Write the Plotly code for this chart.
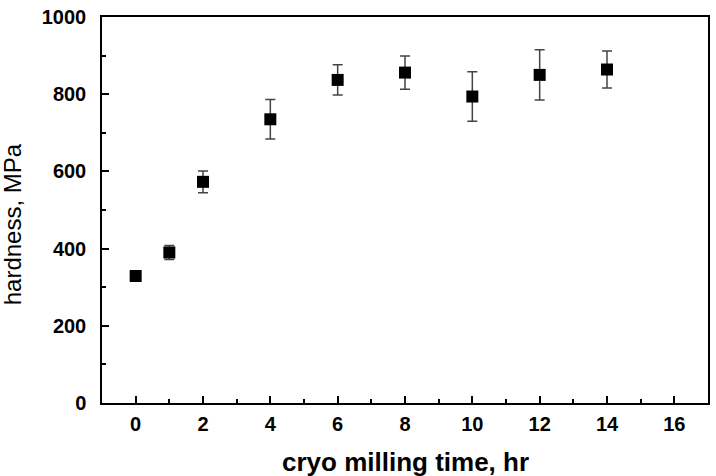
import plotly.graph_objects as go

time_hr = [0, 1, 2, 4, 6, 8, 10, 12, 14]
hardness = [329, 390, 573, 735, 837, 856, 794, 850, 864]
err = [10, 18, 28, 51, 39, 43, 64, 65, 48]

x_ticks = [0, 2, 4, 6, 8, 10, 12, 14, 16]
y_ticks = [0, 200, 400, 600, 800, 1000]
x_title = "cryo milling time, hr"
y_title = "hardness, MPa"

fig = go.Figure()
fig.add_trace(go.Scatter(
    x=time_hr, y=hardness, mode="markers",
    marker=dict(symbol="square", size=12, color="black", line=dict(width=0)),
    error_y=dict(type="data", array=err, visible=True, color="#444444", thickness=1.5, width=5),
    showlegend=False,
))

axis_common = dict(
    showline=True, linecolor="black", linewidth=1.5, mirror=True,
    ticks="inside", ticklen=7, tickwidth=1.5, tickcolor="black",
    showgrid=False, zeroline=False,
    tickfont=dict(family="Liberation Sans, Arial", size=20, color="black", weight="bold"),
)

fig.update_layout(
    width=716, height=476,
    margin=dict(l=102, r=6, t=14, b=73),
    paper_bgcolor="white", plot_bgcolor="white",
    xaxis=dict(
        range=[-1, 17], tickvals=x_ticks, ticktext=[str(v) for v in x_ticks],
        minor=dict(tickvals=[1, 3, 5, 7, 9, 11, 13, 15], ticks="inside", ticklen=4, tickwidth=1.5, tickcolor="black"),
        ticklabelstandoff=2,
        **axis_common,
    ),
    yaxis=dict(
        range=[0, 1000], tickvals=y_ticks, ticktext=[str(v) for v in y_ticks],
        minor=dict(tickvals=[100, 300, 500, 700, 900], ticks="inside", ticklen=4, tickwidth=1.5, tickcolor="black"),
        ticklabelstandoff=10,
        **axis_common,
    ),
    annotations=[
        dict(text=x_title, xref="paper", yref="paper", x=0.5, y=-0.152, yanchor="middle",
             showarrow=False, font=dict(family="Liberation Sans, Arial", size=26, color="black", weight="bold")),
        dict(text=y_title, xref="paper", yref="paper", x=-0.1475, y=0.462, xanchor="center", yanchor="middle",
             textangle=-90, showarrow=False, font=dict(family="Liberation Sans, Arial", size=24, color="black")),
    ],
)

fig.write_html("out.html")
